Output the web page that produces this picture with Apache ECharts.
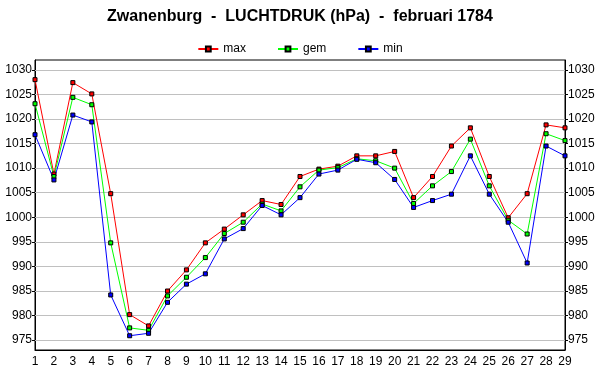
<!DOCTYPE html>
<html><head><meta charset="utf-8">
<script src="https://cdn.jsdelivr.net/npm/echarts@6/dist/echarts.min.js"></script>
<style>html,body{margin:0;padding:0;background:#fff}#c{width:600px;height:390px}</style>
</head><body><div id="c"></div>
<script>
const days = ['1','2','3','4','5','6','7','8','9','10','11','12','13','14','15','16','17','18','19','20','21','22','23','24','25','26','27','28','29'];
const maxVals = [1028.0,1008.8,1027.4,1025.1,1004.8,980.2,977.9,985.0,989.3,994.8,997.6,1000.5,1003.4,1002.6,1008.3,1009.8,1010.4,1012.5,1012.5,1013.4,1004.0,1008.3,1014.5,1018.2,1008.3,999.9,1004.8,1018.8,1018.2];
const gemVals = [1023.1,1008.3,1024.4,1022.9,994.8,977.5,977.0,984.0,987.8,991.8,996.7,999.0,1002.7,1001.3,1006.2,1009.6,1010.1,1011.9,1011.5,1010.0,1002.8,1006.4,1009.3,1015.9,1006.4,999.4,996.6,1017.0,1015.6];
const minVals = [1016.8,1007.6,1020.8,1019.4,984.2,975.9,976.4,982.7,986.4,988.5,995.6,997.7,1002.4,1000.5,1004.0,1008.8,1009.6,1011.8,1011.1,1007.7,1002.0,1003.4,1004.7,1012.5,1004.7,999.0,990.7,1014.5,1012.5];
const yTicks = [975,980,985,990,995,1000,1005,1010,1015,1020,1025,1030];
const seriesNames = ['max','gem','min'];
const seriesColors = ['#ff0000','#00ff00','#0000ff'];
const titleText = 'Zwanenburg  -  LUCHTDRUK (hPa)  -  februari 1784';

const FONT = 'Liberation Sans, Arial, sans-serif';
function mk(name, data, color, withGrid) {
  const s = {
    name: name, type: 'line', data: data, yAxisIndex: 0,
    symbol: 'rect', symbolSize: 4, showSymbol: true,
    lineStyle: {color: color, width: 1},
    itemStyle: {color: color, borderColor: '#000', borderWidth: 1},
    emphasis: {disabled: true}, animation: false, z: 3
  };
  if (withGrid) {
    s.markLine = {
      silent: true, symbol: 'none', label: {show: false}, animation: false,
      lineStyle: {color: '#c0c0c0', type: 'solid', width: 1},
      data: yTicks.map(v => ({yAxis: v})), z: 1
    };
  }
  return s;
}
const yAxisBase = (pos) => ({
  type: 'value', position: pos, min: 973, max: 1032,
  axisLine: {show: true, lineStyle: {color: '#000', width: 1}},
  axisTick: {show: true, length: 3, lineStyle: {color: '#000'}, customValues: yTicks},
  axisLabel: {color: '#000', fontFamily: FONT, fontSize: 12, margin: 3, customValues: yTicks,
    formatter: v => String(v)},
  splitLine: {show: false}
});
const chart = echarts.init(document.getElementById('c'), null, {renderer: 'canvas'});
chart.setOption({
  animation: false,
  backgroundColor: '#fff',
  title: {text: titleText, left: 'center', top: 4,
    textStyle: {fontFamily: FONT, fontSize: 16, fontWeight: 'bold', color: '#000'}},
  legend: {top: 38, left: 'center', itemGap: 31, itemWidth: 20, itemHeight: 6,
    textStyle: {fontFamily: FONT, fontSize: 12, color: '#000'},
    data: seriesNames},
  grid: {left: 35, right: 35, top: 60, bottom: 40, show: true, borderColor: '#000', borderWidth: 1, containLabel: false},
  xAxis: {type: 'category', data: days, boundaryGap: false,
    axisLine: {lineStyle: {color: '#000'}},
    axisTick: {show: false},
    axisLabel: {interval: 0, color: '#000', fontFamily: FONT, fontSize: 12, margin: 6},
    splitLine: {show: false}},
  yAxis: [yAxisBase('left'), yAxisBase('right')],
  series: [mk(seriesNames[0], maxVals, seriesColors[0], true), mk(seriesNames[1], gemVals, seriesColors[1], false), mk(seriesNames[2], minVals, seriesColors[2], false)]
});
</script></body></html>
